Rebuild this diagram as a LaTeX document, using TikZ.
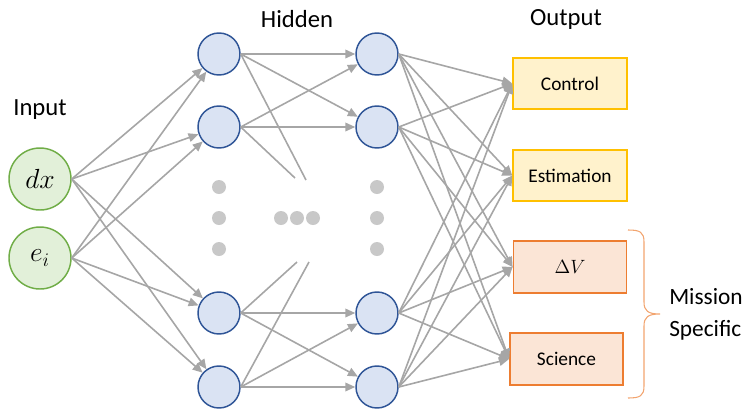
\documentclass[tikz,border=0pt]{standalone}
\usepackage{fontspec}
\setmainfont{Carlito}
\usetikzlibrary{arrows.meta}
\definecolor{inFill}{HTML}{E2F0D9}
\definecolor{inDraw}{HTML}{70AD47}
\definecolor{hidFill}{HTML}{DAE3F3}
\definecolor{hidDraw}{HTML}{2F5597}
\definecolor{yelFill}{HTML}{FFF2CC}
\definecolor{yelDraw}{HTML}{FFC000}
\definecolor{orgFill}{HTML}{FBE5D6}
\definecolor{orgDraw}{HTML}{ED7D31}
\definecolor{lineGray}{HTML}{A6A6A6}
\definecolor{dotGray}{HTML}{C8C8C8}
\begin{document}
\begin{tikzpicture}[x=0.75pt,y=-0.75pt,
  innode/.style={circle,draw=inDraw,fill=inFill,line width=1.1pt,minimum size=46.5pt,inner sep=0pt,font=\fontsize{20}{24}\selectfont},
  hidnode/.style={circle,draw=hidDraw,fill=hidFill,line width=1.1pt,minimum size=31.5pt,inner sep=0pt},
  dotnode/.style={circle,fill=dotGray,minimum size=10.5pt,inner sep=0pt},
  outyel/.style={rectangle,draw=yelDraw,fill=yelFill,line width=1.1pt,minimum width=85.5pt,minimum height=38.5pt,inner sep=0pt,font=\fontsize{14.5}{17}\selectfont},
  outorg/.style={rectangle,draw=orgDraw,fill=orgFill,line width=1.1pt,minimum width=85pt,minimum height=39pt,inner sep=0pt,font=\fontsize{14.5}{17}\selectfont},
  conn/.style={draw=lineGray,line width=1.2pt,-{Triangle[length=7.5pt,width=6.5pt]}},
  stub/.style={draw=lineGray,line width=1.2pt},
  lbl/.style={font=\fontsize{18.5}{22}\selectfont,inner sep=0pt},
  brc/.style={draw=orgDraw!70,line width=0.8pt}
]
\useasboundingbox (0,0) rectangle (743,412);
% labels
\node[lbl] (linput) at (40,110) {Input};
\node[lbl] (lhidden) at (297,19) {Hidden};
\node[lbl] (loutput) at (566,19) {Output};
% input nodes
\node[innode] (dx) at (40,179) {$dx$};
\node[innode] (ei) at (40,258) {$e_i$};
% hidden layer 1
\node[hidnode] (a1) at (219,54) {};
\node[hidnode] (a2) at (219,127) {};
\node[hidnode] (a3) at (219,313) {};
\node[hidnode] (a4) at (219,387) {};
% hidden layer 2
\node[hidnode] (b1) at (377,54) {};
\node[hidnode] (b2) at (377,127) {};
\node[hidnode] (b3) at (377,313) {};
\node[hidnode] (b4) at (377,387) {};
% dots
\node[dotnode] (da1) at (219,187) {};
\node[dotnode] (da2) at (219,218) {};
\node[dotnode] (da3) at (219,249) {};
\node[dotnode] (db1) at (377,187) {};
\node[dotnode] (db2) at (377,218) {};
\node[dotnode] (db3) at (377,249) {};
\node[dotnode] (dm1) at (281,218) {};
\node[dotnode] (dm2) at (297,218) {};
\node[dotnode] (dm3) at (313,218) {};
% outputs
\node[outyel] (ctrl) at (570,83.5) {Control};
\node[outyel] (est) at (570,175.5) {Estimation};
\node[outorg,font=\fontsize{14.5}{17}\selectfont] (dv) at (570,267) {$\Delta V$};
\node[outorg] (sci) at (566.5,359) {Science};
% stub ends
\coordinate (s1) at (306,180);
\coordinate (s2) at (295,178);
\coordinate (s3) at (297,262);
\coordinate (s4) at (309,262);
% input -> hidden 1
\foreach \i in {dx,ei}{
  \foreach \h in {a1,a2,a3,a4}{
    \draw[conn] (\i.east) -- (\h);
  }
}
% hidden 1 -> hidden 2
\draw[conn] (a1) -- (b1);
\draw[conn] (a1.east) -- (b2);
\draw[conn] (a2.east) -- (b1);
\draw[conn] (a2) -- (b2);
\draw[conn] (a3) -- (b3);
\draw[conn] (a3.east) -- (b4);
\draw[conn] (a4.east) -- (b3);
\draw[conn] (a4) -- (b4);
% stubs
\draw[stub] (a1.east) -- (s1);
\draw[stub] (a2.east) -- (s2);
\draw[stub] (a3.east) -- (s3);
\draw[stub] (a4.east) -- (s4);
% hidden 2 -> output
\foreach \h in {b1,b2,b3,b4}{
  \foreach \o in {ctrl,est,dv,sci}{
    \draw[conn] (\h.east) -- (\o.west);
  }
}
% brace
\draw[brc] (628,230) .. controls (640,230) and (644,232) .. (644,242) -- (644,302)
  .. controls (644,311) and (648,314) .. (660,314)
  .. controls (648,314) and (644,317) .. (644,326) -- (644,386)
  .. controls (644,396) and (640,398) .. (628,398);
\node[font=\fontsize{17.5}{24}\selectfont,align=left,anchor=west,inner sep=0pt] (mission) at (669,314) {Mission\\Specific};
\end{tikzpicture}
\end{document}
